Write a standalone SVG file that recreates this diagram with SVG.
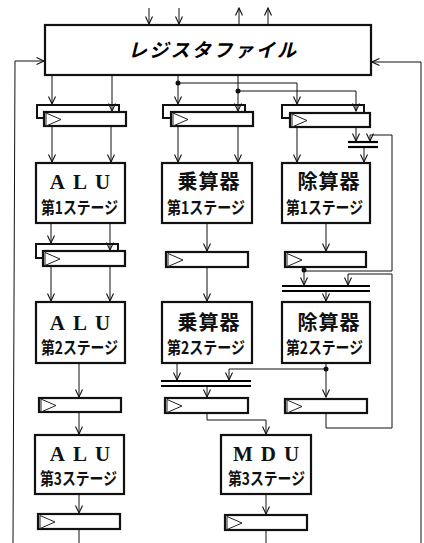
<svg xmlns="http://www.w3.org/2000/svg" width="424" height="543" viewBox="0 0 424 543">
<style>
.b{fill:#fff;stroke:#111;stroke-width:2.200}
.r{fill:#fff;stroke:#111;stroke-width:2.200}
.s{fill:none;stroke:#111;stroke-width:2}
.t{fill:#fff;stroke:#222;stroke-width:1}
.c path,.c line{fill:none;stroke:#111;stroke-width:1}
.c path.a,.c line.a{marker-end:url(#ah)}
.c line.bus{stroke:#000;stroke-width:2.200}
.en{font:bold 21px "Liberation Serif",serif;fill:#111;letter-spacing:8px;text-anchor:middle}
.ja{font:bold 20px "Noto Sans CJK JP","Liberation Serif",serif;fill:#111;text-anchor:middle;letter-spacing:1px}
.st{font:bold 17px "Noto Sans CJK JP",sans-serif;fill:#111}
.rf{font:italic bold 19px "Noto Sans CJK JP",sans-serif;fill:#000}
</style>
<defs>
<marker id="ah" markerUnits="userSpaceOnUse" markerWidth="10" markerHeight="8" refX="8.500" refY="4" orient="auto"><path d="M1 0.500L8.500 4L1 7.500" fill="none" stroke="#111" stroke-width="1.100"/></marker>
<g id="tri"><path class="t" d="M1 1L16 7.500L1 14Z"/></g>
</defs>
<rect width="424" height="543" fill="#fff"/>
<g id="connectors" class="c">
<line class="a" x1="149" y1="8" x2="149" y2="24"/>
<line class="a" x1="179" y1="8" x2="179" y2="24"/>
<line class="a" x1="239" y1="24" x2="239" y2="8"/>
<line class="a" x1="268" y1="24" x2="268" y2="8"/>
<path class="a" d="M13 543L15 61H44"/>
<path class="a" d="M421 543V62H372"/>
<line class="a" x1="52" y1="76" x2="52" y2="104"/>
<line class="a" x1="112" y1="76" x2="112" y2="111"/>
<line class="a" x1="178" y1="76" x2="178" y2="104"/>
<line class="a" x1="238" y1="76" x2="238" y2="111"/>
<path class="a" d="M178 83H297V104"/>
<path class="a" d="M238 91H356V111"/>
<line class="a" x1="52" y1="127" x2="52" y2="162"/>
<line class="a" x1="111" y1="127" x2="111" y2="162"/>
<line class="a" x1="178" y1="127" x2="178" y2="162"/>
<line class="a" x1="238" y1="127" x2="238" y2="162"/>
<line class="a" x1="297" y1="127" x2="297" y2="162"/>
<line class="a" x1="356" y1="127" x2="356" y2="141"/>
<path class="a" d="M304 271H392V135H370V141"/>
<line class="bus" x1="348" y1="142" x2="378" y2="142"/>
<line class="bus" x1="348" y1="147" x2="378" y2="147"/>
<line class="a" x1="364" y1="148" x2="364" y2="162"/>
<line class="a" x1="51" y1="223" x2="51" y2="243"/>
<line class="a" x1="110" y1="223" x2="110" y2="250"/>
<line class="a" x1="207" y1="224" x2="207" y2="251"/>
<line class="a" x1="326" y1="224" x2="326" y2="251"/>
<line class="a" x1="51" y1="267" x2="51" y2="301"/>
<line class="a" x1="110" y1="267" x2="110" y2="301"/>
<line class="a" x1="207" y1="268" x2="207" y2="301"/>
<line class="a" x1="304" y1="268" x2="304" y2="285"/>
<path class="a" d="M326 413V428H392V274H348V285"/>
<line class="bus" x1="282" y1="286" x2="370" y2="286"/>
<line class="bus" x1="282" y1="291" x2="370" y2="291"/>
<line class="a" x1="326" y1="292" x2="326" y2="301"/>
<line class="a" x1="177" y1="364" x2="177" y2="380"/>
<path class="a" d="M326 369H229V380"/>
<line class="a" x1="326" y1="364" x2="326" y2="397"/>
<line class="bus" x1="161" y1="381" x2="251" y2="381"/>
<line class="bus" x1="161" y1="386" x2="251" y2="386"/>
<line class="a" x1="207" y1="387" x2="207" y2="397"/>
<line class="a" x1="79" y1="364" x2="79" y2="397"/>
<line class="a" x1="79" y1="413" x2="79" y2="434"/>
<path class="a" d="M207 413V420H266V434"/>
<line class="a" x1="79" y1="495" x2="79" y2="513"/>
<line class="a" x1="266" y1="495" x2="266" y2="514"/>
<line x1="79" y1="530" x2="79" y2="543"/>
<line x1="266" y1="531" x2="266" y2="543"/>
<circle cx="178" cy="83" r="2.500" fill="#111"/>
<circle cx="238" cy="91" r="2.500" fill="#111"/>
<circle cx="304" cy="270" r="2.500" fill="#111"/>
<circle cx="326" cy="369" r="2.500" fill="#111"/>
</g>
<g id="regfile"><rect class="b" x="45" y="25" width="326" height="50"/><text class="rf" x="128" y="57" textLength="168">レジスタファイル</text></g>
<g id="latch-a1"><path class="s" d="M44 118H37V105H119V112"/><rect class="r" x="44" y="112" width="82" height="14"/><use href="#tri" x="45" y="112"/></g>
<g id="latch-m1"><path class="s" d="M171 118H163V105H245V112"/><rect class="r" x="171" y="112" width="82" height="14"/><use href="#tri" x="172" y="112"/></g>
<g id="latch-d1"><path class="s" d="M290 118H282V105H364V112"/><rect class="r" x="290" y="113" width="80" height="14"/><use href="#tri" x="291" y="113"/></g>
<g id="alu1"><rect class="b" x="36" y="163" width="89" height="60"/><text class="en" x="84" y="189">ALU</text><text class="st" x="41" y="214" textLength="77" lengthAdjust="spacingAndGlyphs">第1ステージ</text></g>
<g id="mul1"><rect class="b" x="162" y="163" width="90" height="60"/><text class="ja" x="209" y="189">乗算器</text><text class="st" x="167" y="214" textLength="78" lengthAdjust="spacingAndGlyphs">第1ステージ</text></g>
<g id="div1"><rect class="b" x="282" y="163" width="88" height="60"/><text class="ja" x="329" y="189">除算器</text><text class="st" x="286" y="214" textLength="77" lengthAdjust="spacingAndGlyphs">第1ステージ</text></g>
<g id="latch-a2"><path class="s" d="M43 258H36V244H118V251"/><rect class="r" x="43" y="251" width="82" height="15"/><use href="#tri" x="44" y="251.500"/></g>
<g id="latch-m2"><rect class="r" x="166" y="252" width="82" height="15"/><use href="#tri" x="167" y="252.500"/></g>
<g id="latch-d2"><rect class="r" x="285" y="252" width="81" height="15"/><use href="#tri" x="286" y="252.500"/></g>
<g id="alu2"><rect class="b" x="36" y="302" width="89" height="61"/><text class="en" x="84" y="330">ALU</text><text class="st" x="41" y="354" textLength="77" lengthAdjust="spacingAndGlyphs">第2ステージ</text></g>
<g id="mul2"><rect class="b" x="162" y="302" width="90" height="61"/><text class="ja" x="209" y="330">乗算器</text><text class="st" x="167" y="354" textLength="78" lengthAdjust="spacingAndGlyphs">第2ステージ</text></g>
<g id="div2"><rect class="b" x="282" y="302" width="88" height="61"/><text class="ja" x="329" y="330">除算器</text><text class="st" x="286" y="354" textLength="77" lengthAdjust="spacingAndGlyphs">第2ステージ</text></g>
<g id="latch-a3"><rect class="r" x="39" y="398" width="82" height="14"/><use href="#tri" x="40" y="398"/></g>
<g id="latch-m3"><rect class="r" x="165" y="398" width="83" height="15"/><use href="#tri" x="166" y="398.500"/></g>
<g id="latch-d3"><rect class="r" x="285" y="399" width="82" height="14"/><use href="#tri" x="286" y="399"/></g>
<g id="alu3"><rect class="b" x="35" y="435" width="89" height="59"/><text class="en" x="84" y="461">ALU</text><text class="st" x="40" y="485" textLength="77" lengthAdjust="spacingAndGlyphs">第3ステージ</text></g>
<g id="mdu"><rect class="b" x="221" y="435" width="90" height="59"/><text class="en" x="270" y="461">MDU</text><text class="st" x="228" y="485" textLength="77" lengthAdjust="spacingAndGlyphs">第3ステージ</text></g>
<g id="latch-a4"><rect class="r" x="38" y="514" width="82" height="15"/><use href="#tri" x="39" y="514.500"/></g>
<g id="latch-m4"><rect class="r" x="225" y="515" width="82" height="15"/><use href="#tri" x="226" y="515.500"/></g>
</svg>
